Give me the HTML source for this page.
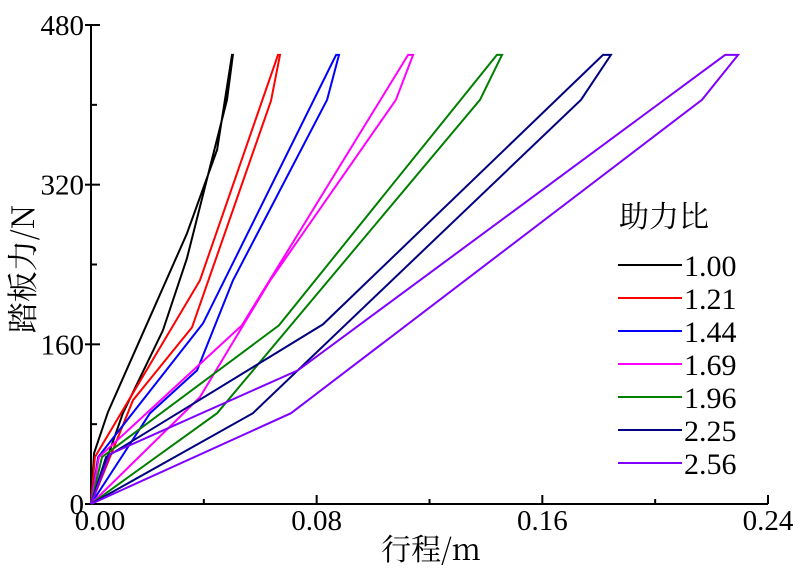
<!DOCTYPE html>
<html><head><meta charset="utf-8"><style>
html,body{margin:0;padding:0;background:#fff;}
text{font-family:"Liberation Serif","DejaVu Serif","Noto Serif CJK SC",serif;}
text.cjk{font-family:"Noto Serif CJK SC","Noto Sans CJK SC","Liberation Serif",serif;}
</style></head><body>
<svg id="chart" width="800" height="571" viewBox="0 0 800 571" xmlns="http://www.w3.org/2000/svg">
<g id="axes"></g>
<g id="series"></g>
<g id="legend"></g>
</svg>
<script>
const ratioLabels = ["1.00","1.21","1.44","1.69","1.96","2.25","2.56"];
const colors = ["#000000","#ff0000","#0000ff","#ff00ff","#007f00","#000080","#7f00ff"];
const upperX = [
 [0,0.0011,0.0060,0.0340,0.0447,0.0500],
 [0,0.0014,0.0386,0.0663],
 [0,0.0025,0.0397,0.0869],
 [0,0.0028,0.0535,0.1124],
 [0,0.0039,0.0666,0.1439],
 [0,0.0053,0.0822,0.1815],
 [0,0.0067,0.0734,0.2248]
];
const upperF = [
 [0,51,92,271,355,450],
 [0,47,224,450],
 [0,47,181,450],
 [0,47,179,450],
 [0,47,179,450],
 [0,47,180,450],
 [0,50,134,450]
];
const lowerX = [
 [0,0.0113,0.0255,0.0340,0.0482,0.0503],
 [0,0.0149,0.0358,0.0638,0.0670],
 [0,0.0209,0.0376,0.0503,0.0837,0.0879],
 [0,0.0386,0.0635,0.1081,0.1142],
 [0,0.0447,0.1379,0.1457],
 [0,0.0574,0.1737,0.1843],
 [0,0.0709,0.2166,0.2294]
];
const lowerF = [
 [0,91,174,246,405,450],
 [0,104,177,404,450],
 [0,91,134,224,405,450],
 [0,107,224,405,450],
 [0,91,405,450],
 [0,91,405,450],
 [0,91,405,450]
];
const xTicks = [0,0.08,0.16,0.24];
const xTickLabels = ["0.00","0.08","0.16","0.24"];
const yTicks = [0,160,320,480];
const yTickLabels = ["0","160","320","480"];

const X0=91, X1=768, Y0=504, Y1=25;
const sx = v => X0 + (v-0)/(0.24-0)*(X1-X0);
const sy = v => Y0 - (v-0)/(480-0)*(Y0-Y1);
const NS="http://www.w3.org/2000/svg";
function mk(tag, attrs, parent){const e=document.createElementNS(NS,tag);for(const k in attrs)e.setAttribute(k,attrs[k]);parent.appendChild(e);return e;}

const axes=document.getElementById('axes');
let l=mk('line',{x1:X0,y1:Y1,x2:X0,y2:Y0,stroke:'#000','stroke-width':2},axes);


l=mk('line',{x1:X0,y1:Y0,x2:X1,y2:Y0,stroke:'#000','stroke-width':2},axes);


yTicks.forEach((t,i)=>{
  const y=sy(t);
  const tk=mk('line',{x1:X0-6,y1:y,x2:X0+9,y2:y,stroke:'#000','stroke-width':2},axes);
  
  
  if(i<yTicks.length-1){
    const m=sy((t+yTicks[i+1])/2);
    const mt=mk('line',{x1:X0,y1:m,x2:X0+6,y2:m,stroke:'#000','stroke-width':2},axes);
    
    
  }
  const tx=mk('text',{x:X0-7,y:y+10,'text-anchor':'end','font-size':29},axes);
  tx.textContent=yTickLabels[i];
  
  
});
xTicks.forEach((t,i)=>{
  const x=sx(t);
  const tk=mk('line',{x1:x,y1:Y0,x2:x,y2:Y0-9,stroke:'#000','stroke-width':2},axes);
  
  
  if(i<xTicks.length-1){
    const m=sx((t+xTicks[i+1])/2);
    const mt=mk('line',{x1:m,y1:Y0,x2:m,y2:Y0-5,stroke:'#000','stroke-width':2},axes);
    
    
  }
  const tx=mk('text',{x:(i===0?x+9:x),y:530,'text-anchor':'middle','font-size':29},axes);
  tx.textContent=xTickLabels[i];
  
  
});
let t=mk('text',{x:431,y:560,'text-anchor':'middle','font-size':30,'class':'cjk'},axes);
t.textContent='行程/m';


t=mk('text',{x:0,y:0,'text-anchor':'middle','font-size':31,'class':'cjk',transform:'translate(34,269) rotate(-90)'},axes);
t.textContent='踏板力/N';



const series=document.getElementById('series');
ratioLabels.forEach((lab,i)=>{
  const pts=[];
  upperX[i].forEach((x,j)=>pts.push(sx(x).toFixed(1)+','+sy(upperF[i][j]).toFixed(1)));
  for(let j=lowerX[i].length-1;j>=0;j--) pts.push(sx(lowerX[i][j]).toFixed(1)+','+sy(lowerF[i][j]).toFixed(1));
  const p=mk('polyline',{points:pts.join(' '),fill:'none',stroke:colors[i],'stroke-width':2,'stroke-linejoin':'miter'},series);
  
  
});

const legend=document.getElementById('legend');
t=mk('text',{x:619,y:227,'font-size':30,'class':'cjk'},legend);
t.textContent='助力比';


ratioLabels.forEach((lab,i)=>{
  const y=265+i*33;
  const g=mk('g',{},legend);
  
  
  mk('line',{x1:618,y1:y,x2:682,y2:y,stroke:colors[i],'stroke-width':2},g);
  const tx=mk('text',{x:684,y:y+11,'font-size':30},g);
  tx.textContent=lab;
});
</script>
</body></html>
